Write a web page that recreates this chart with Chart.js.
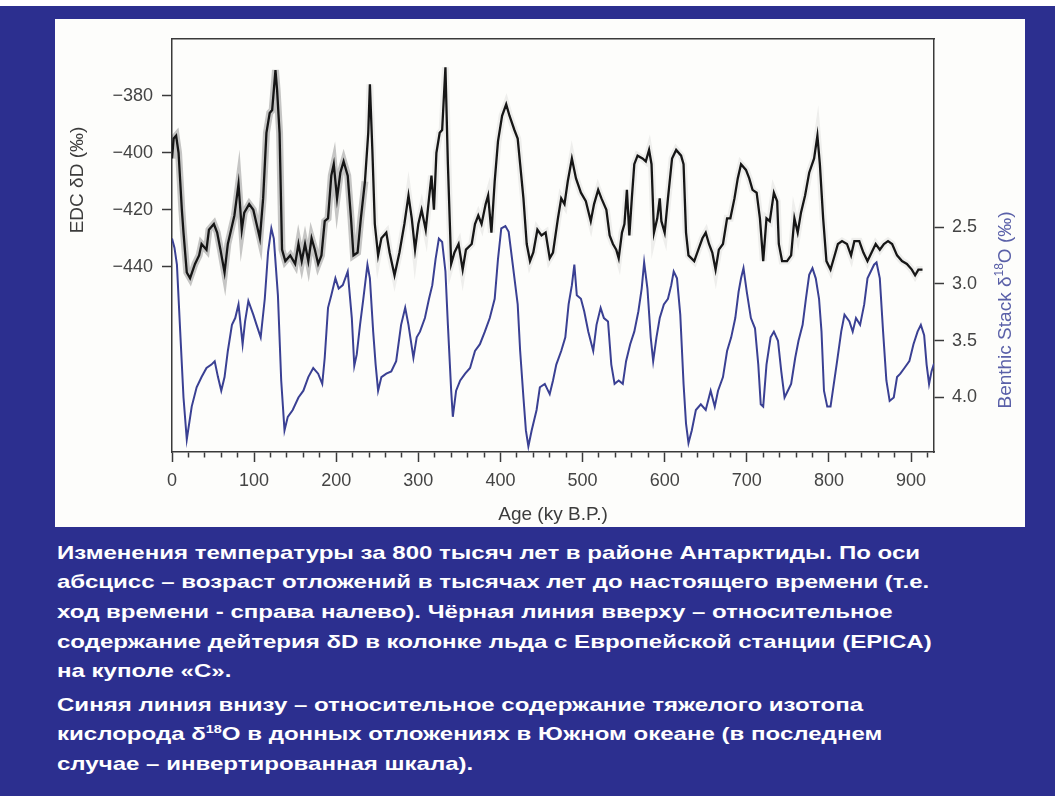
<!DOCTYPE html>
<html><head><meta charset="utf-8">
<script src="https://cdn.jsdelivr.net/npm/chart.js@4.4.1/dist/chart.umd.min.js"></script>
<style>
html,body{margin:0;padding:0;}
body{width:1055px;height:796px;background:#2c2f8f;position:relative;overflow:hidden;font-family:"Liberation Sans",Arial,sans-serif;}
#topstrip{position:absolute;left:0;top:0;width:1055px;height:6px;background:#fff;}
#panel{position:absolute;left:55px;top:19px;width:970px;height:508px;background:#fdfdfb;}
#panel canvas{position:absolute;left:0;top:0;}
#caption{position:absolute;left:57px;top:0;color:#fff;font-weight:bold;font-size:19px;}
.ln{position:absolute;left:0;white-space:nowrap;line-height:22px;transform-origin:0 50%;}
.ln sup{font-size:0.6em;line-height:0;}
</style></head>
<body>
<div id="topstrip"></div>
<div id="panel"><canvas id="c" width="970" height="508"></canvas></div>
<div id="caption"></div>
<script>
// ---- data ----
const blackAge = [0,2,5,8,10,12,14,18,22,28,33,36,42,45,51,55,59,64,68,72,76,81,85,88,94,99,103,107,111,115,119,122,126,128,131,134,138,144,150,154,158,162,166,170,174,178,182,186,190,194,197,201,205,209,214,218,221,226,230,235,239,241,244,247,251,255,261,265,271,277,283,288,292,296,300,304,309,313,316,319,322,326,329,333,336,340,344,349,354,358,365,369,373,377,382,385,389,393,397,402,407,411,417,421,424,428,432,436,440,445,450,455,460,464,470,474,478,482,487,492,498,504,510,514,519,523,529,533,537,541,544,548,551,554,557,560,563,567,573,577,581,584,587,591,594,596,600,604,609,614,620,623,626,629,636,641,646,650,654,658,662,666,671,676,680,685,689,693,699,703,707,712,716,720,724,728,733,737,739,743,749,754,758,762,766,771,776,782,786,789,793,797,802,806,811,816,822,827,831,837,842,847,852,857,862,867,872,877,883,889,895,901,905,909,914];
const blackDD = [-402,-395,-394,-400,-410,-420,-428,-442,-444,-439,-436,-432,-434,-427,-425,-428,-434,-442,-432,-427,-422,-411,-427,-421,-418,-420,-425,-430,-416,-393,-386,-385,-371,-378,-393,-434,-438,-436,-439,-432,-438,-432,-438,-430,-434,-439,-436,-424,-423,-408,-404,-416,-407,-403,-408,-423,-436,-435,-423,-410,-393,-376,-399,-425,-436,-430,-428,-435,-443,-435,-425,-415,-423,-434,-425,-420,-427,-416,-408,-420,-400,-393,-392,-370,-404,-439,-435,-432,-441,-434,-432,-425,-422,-425,-418,-415,-428,-410,-396,-387,-383,-387,-392,-395,-404,-416,-432,-438,-435,-427,-429,-428,-437,-435,-423,-416,-418,-410,-402,-409,-414,-417,-424,-418,-413,-416,-420,-429,-432,-434,-437,-428,-425,-413,-429,-416,-404,-401,-402,-403,-399,-404,-428,-423,-416,-424,-428,-416,-402,-399,-401,-404,-428,-436,-438,-434,-430,-428,-432,-435,-441,-434,-432,-423,-423,-416,-409,-404,-406,-409,-413,-414,-423,-438,-423,-424,-414,-417,-432,-438,-438,-436,-423,-428,-421,-415,-407,-402,-394,-404,-423,-438,-441,-437,-432,-431,-432,-436,-431,-431,-435,-438,-435,-432,-434,-432,-431,-432,-436,-438,-439,-441,-443,-441,-441];
const blueAge = [0,3,6,10,14,18,24,30,36,42,48,52,56,60,64,68,73,77,81,86,89,93,99,103,108,113,117,121,124,129,133,137,141,147,154,160,166,172,178,183,186,190,194,199,203,208,214,219,222,225,229,233,238,241,245,248,251,255,261,267,273,279,284,288,294,298,302,308,313,317,321,325,329,333,336,340,342,346,351,357,363,369,375,381,387,393,397,401,406,410,415,421,424,428,431,434,438,444,448,454,460,464,468,474,479,483,487,490,493,498,502,507,513,517,522,526,531,535,539,544,549,553,558,563,568,572,575,579,583,586,590,594,599,604,608,611,615,619,623,626,629,633,638,644,650,656,661,665,671,676,681,686,690,693,696,700,705,710,714,717,720,724,729,733,738,742,746,750,754,759,763,768,772,776,780,784,788,791,794,798,802,806,810,815,819,825,829,833,838,843,847,851,855,858,862,866,870,874,879,883,887,892,898,903,908,912,916,919,922,925,928];
const blueO18 = [2.60,2.68,2.83,3.42,4.00,4.37,4.08,3.91,3.82,3.74,3.71,3.68,3.82,3.94,3.82,3.59,3.36,3.30,3.18,3.53,3.33,3.15,3.27,3.36,3.47,3.13,2.72,2.51,2.60,3.10,3.85,4.29,4.17,4.11,4.00,3.94,3.82,3.74,3.79,3.88,3.65,3.21,3.10,2.95,3.04,3.01,2.89,3.30,3.72,3.62,3.36,3.13,2.83,2.95,3.42,3.71,3.94,3.82,3.79,3.77,3.68,3.36,3.21,3.36,3.65,3.47,3.42,3.30,3.13,3.01,2.78,2.60,2.63,2.89,3.36,3.94,4.17,3.94,3.85,3.79,3.74,3.59,3.53,3.42,3.30,3.13,2.78,2.51,2.49,2.54,2.83,3.18,3.59,4.00,4.29,4.43,4.29,4.11,3.91,3.88,3.97,3.85,3.71,3.59,3.47,3.18,3.01,2.83,3.10,3.13,3.24,3.42,3.59,3.36,3.21,3.30,3.33,3.71,3.88,3.85,3.88,3.68,3.53,3.42,3.24,3.04,2.81,3.04,3.47,3.68,3.47,3.30,3.18,3.13,3.01,2.89,2.95,3.27,3.88,4.23,4.40,4.29,4.11,4.06,4.11,3.94,4.08,3.94,3.82,3.59,3.47,3.30,3.07,2.95,2.86,3.07,3.30,3.39,3.71,4.06,4.08,3.71,3.47,3.42,3.50,3.77,4.00,3.94,3.88,3.65,3.50,3.36,3.13,2.92,2.86,2.95,3.13,3.42,3.94,4.08,4.08,3.88,3.68,3.42,3.27,3.33,3.42,3.30,3.36,3.18,2.95,2.89,2.83,2.81,2.95,3.42,3.85,4.03,4.00,3.82,3.79,3.74,3.68,3.53,3.42,3.36,3.45,3.71,3.88,3.77,3.70];
const leftTicks = [-440,-420,-400,-380];
const rightTicks = [2.5,3.0,3.5,4.0];
const xLabels = [0,100,200,300,400,500,600,700,800,900];
const xMinorStep = 20;
const captionLines = [
  'Изменения температуры за 800 тысяч лет в районе Антарктиды. По оси',
  'абсцисс – возраст отложений в тысячах лет до настоящего времени (т.е.',
  'ход времени - справа налево). Чёрная линия вверху – относительное',
  'содержание дейтерия δD в колонке льда с Европейской станции (EPICA)',
  'на куполе «С».',
  'Синяя линия внизу – относительное содержание тяжелого изотопа',
  'кислорода δ<sup>18</sup>O в донных отложениях в Южном океане (в последнем',
  'случае – инвертированная шкала).'
];
const captionY = [553,582,612,642,671,705,734,764];

// ---- caption ----
const cap = document.getElementById('caption');
captionLines.forEach((t,i)=>{
  const d = document.createElement('div');
  d.className='ln'; d.innerHTML=t; d.style.top=(captionY[i]-11)+'px';
  cap.appendChild(d);
});
const w0 = cap.children[0].offsetWidth;
const sx = 863 / w0;
Array.from(cap.children).forEach(d=>{ d.style.transform='scaleX('+sx+')'; });

// ---- chart ----
const blackPts = blackAge.map((a,i)=>({x:a,y:blackDD[i]}));
const bluePts = blueAge.map((a,i)=>({x:a,y:blueO18[i]}));
const xTickVals = [];
for (let v=0; v<=920; v+=xMinorStep) xTickVals.push(v);

const axisColor = '#3a3a3a';
const tickFont = {family:'"Liberation Sans", Arial, sans-serif', size:18};
const W = 970, H = 508;
const areaL = 117, areaR = 879, areaT = 16, areaB = 433;

const titlesPlugin = {
  id:'ytitles',
  afterDraw(chart){
    const ctx = chart.ctx;
    ctx.save();
    ctx.font = '19px "Liberation Sans", Arial, sans-serif';
    ctx.fillStyle = '#3c3c3c';
    ctx.textAlign='center'; ctx.textBaseline='middle';
    ctx.translate(23,161); ctx.rotate(-Math.PI/2);
    ctx.fillText('EDC δD (‰)',0,0);
    ctx.restore();
    ctx.save();
    ctx.fillStyle = '#5a60a8';
    ctx.textBaseline='middle'; ctx.textAlign='left';
    const big = '19px "Liberation Sans", Arial, sans-serif';
    const small = '12px "Liberation Sans", Arial, sans-serif';
    const p1='Benthic Stack δ', p2='18', p3='O (‰)';
    ctx.font=big; const w1=ctx.measureText(p1).width, w3=ctx.measureText(p3).width;
    ctx.font=small; const w2=ctx.measureText(p2).width;
    const tot=w1+w2+w3;
    ctx.translate(951,291); ctx.rotate(-Math.PI/2);
    let x=-tot/2;
    ctx.font=big; ctx.fillText(p1,x,0); x+=w1;
    ctx.font=small; ctx.fillText(p2,x,-6); x+=w2;
    ctx.font=big; ctx.fillText(p3,x,0);
    ctx.restore();
  }
};

new Chart(document.getElementById('c'), {
  type:'line',
  data:{datasets:[
    {label:'EDC δD', data:blackPts, xAxisID:'x', yAxisID:'yL', borderColor:'#161616', borderWidth:2.3, pointRadius:0, tension:0, order:0},
    {label:'Benthic Stack δ18O', data:bluePts, xAxisID:'x', yAxisID:'yR', borderColor:'#3a4093', borderWidth:2, pointRadius:0, tension:0, order:1},
    {label:'EDC δD envelope', data:blackPts, xAxisID:'x', yAxisID:'yL', borderWidth:7, pointRadius:0, tension:0, order:2,
      borderColor:'rgba(0,0,0,0.12)',
      segment:{borderColor: c => c.p0.parsed.x < 235 ? 'rgba(0,0,0,0.22)' : 'rgba(0,0,0,0.06)'}}
  ]},
  options:{
    responsive:false, animation:false, devicePixelRatio:1,
    layout:{padding:{top:areaT,left:0,right:0,bottom:0}},
    plugins:{legend:{display:false}, tooltip:{enabled:false}},
    scales:{
      x:{type:'linear', position:'bottom', min:0, max:928,
        afterBuildTicks: s => { s.ticks = xTickVals.map(v=>({value:v})); },
        afterFit: s => { s.height = H - areaB; },
        ticks:{autoSkip:false, maxRotation:0, minRotation:0, padding:8, color:'#444', font:tickFont,
          callback: v => xLabels.includes(v) ? String(v) : ''},
        grid:{drawOnChartArea:false, tickLength:10, tickColor:axisColor, tickWidth:1.5,
          tickBorderDash: c => (c.tick && xLabels.includes(c.tick.value)) ? [] : [5,40]},
        border:{display:true, color:axisColor, width:1.5},
        title:{display:true, text:'Age (ky B.P.)', color:'#3c3c3c', font:{family:'"Liberation Sans", Arial, sans-serif', size:19}, padding:{top:0,bottom:1}}
      },
      xTop:{type:'linear', position:'top', min:0, max:928,
        afterFit: s => { s.height = 0; },
        ticks:{display:false}, grid:{drawOnChartArea:false, drawTicks:false},
        border:{display:true, color:axisColor, width:1.5}},
      yL:{type:'linear', position:'left', min:-505, max:-360,
        afterBuildTicks: s => { s.ticks = leftTicks.map(v=>({value:v})); },
        afterFit: s => { s.width = areaL; },
        ticks:{padding:9, color:'#444', font:tickFont, callback: v => String(v).replace('-','−')},
        grid:{drawOnChartArea:false, tickLength:10, tickColor:axisColor, tickWidth:1.5},
        border:{display:true, color:axisColor, width:1.5}},
      yR:{type:'linear', position:'right', reverse:true, min:0.84, max:4.48,
        afterBuildTicks: s => { s.ticks = rightTicks.map(v=>({value:v})); },
        afterFit: s => { s.width = W - areaR; },
        ticks:{padding:8, color:'#444', font:tickFont, callback: v => Number(v).toFixed(1)},
        grid:{drawOnChartArea:false, tickLength:10, tickColor:axisColor, tickWidth:1.5},
        border:{display:true, color:axisColor, width:1.5}}
    }
  },
  plugins:[titlesPlugin]
});
</script>
</body></html>
